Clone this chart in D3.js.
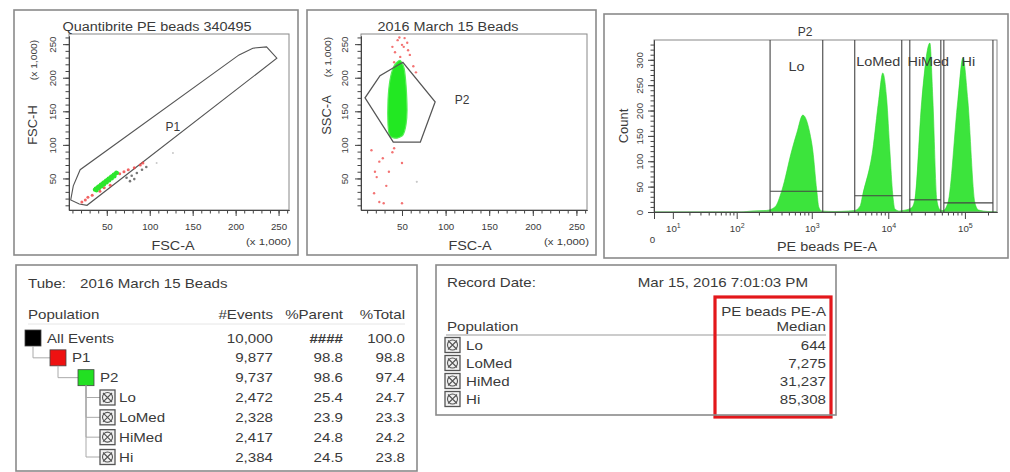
<!DOCTYPE html>
<html>
<head>
<meta charset="utf-8">
<script src="https://cdn.jsdelivr.net/npm/d3@7"></script>
<style>
  body { margin: 0; background: #fff; }
  svg text { font-family: Arial, "Liberation Sans", sans-serif; fill: #3a3a3a; }
</style>
</head>
<body>
<svg id="fig" width="1010" height="472"></svg>
<script>
// ---------------- data ----------------
const plotTitles = ["Quantibrite PE beads 340495", "2016 March 15 Beads", "P2"];
const linTickValues = [50, 100, 150, 200, 250];          // x 1,000
const linMinorTicks = d3.range(10, 261, 10);

// FSC-A vs FSC-H (x 1,000)
const p1Gate = [[8, 18], [11, 39], [19, 63], [204, 234], [220, 244], [236, 246], [248, 229], [27, 10], [18, 12]];
const p1LabelAt = [127, 127];
const p1Green = [[36, 33], [38, 34], [39, 36], [41, 37], [42, 39], [44, 40], [45, 42], [47, 43], [48, 45], [50, 46],
  [51, 48], [53, 49], [54, 51], [56, 52], [57, 54], [59, 55], [60, 57], [62, 58], [37, 35], [40, 38], [43, 41],
  [46, 44], [49, 47], [52, 50], [55, 53], [58, 56], [61, 59], [38, 32], [41, 35], [44, 38], [47, 41], [50, 44],
  [53, 47], [56, 50], [59, 53]];
const p1Red = [[25, 18], [28, 22], [21, 15], [33, 25], [42, 31], [47, 36], [54, 40], [65, 57], [70, 60], [75, 63],
  [82, 66], [89, 70], [92, 73]];
const p1Dark = [[73, 51], [79, 54], [85, 58], [91, 63], [96, 67], [77, 46], [82, 49]];
const p1Faint = [[108, 73], [127, 88]];

// FSC-A vs SSC-A (x 1,000)
const p2Gate = [[7.6, 170], [24.8, 203], [51, 223], [88, 164], [71, 104], [40, 104]];
const p2LabelAt = [119, 167];
const p2Cloud = [[47.7, 226], [52.3, 214.5], [54.6, 189], [55.8, 152], [54.6, 130], [51.2, 115], [44.3, 110],
  [36.3, 113], [34, 130], [34, 167], [36.3, 197], [40.9, 217.5]];
const p2Red = [[45, 256], [50, 249], [53, 259], [57, 241], [42, 238], [48, 231], [59, 234], [52, 246], [63, 217],
  [39, 246], [56, 252], [47, 260], [66, 208], [41, 223], [41, 95], [39, 89], [24, 75], [19, 60], [21, 52], [35, 60],
  [18, 28], [24, 15], [29, 13], [50, 13], [50, 73], [32, 39], [15, 92], [28, 80]];
const p2Faint = [[67, 45]];

// PE beads PE-A histogram of P2: [PE-A value, count]
const peHistogram = [[3.3, 0], [115, 0], [160, 2], [250, 3], [328, 10], [405, 43], [548, 122], [637, 156],
  [763, 191], [942, 156], [1030, 122], [1162, 43], [1235, 10], [1350, 2], [2000, 1], [3000, 2],
  [3650, 3], [4300, 12], [4640, 34], [6270, 122], [7510, 221], [8470, 274], [9550, 221], [10480, 122],
  [11450, 34], [12200, 6], [14000, 2],
  [15500, 3], [20000, 8], [22200, 24], [27400, 221], [34900, 333], [38200, 221], [43000, 24], [47000, 5], [50000, 3],
  [52000, 3], [60000, 18], [81000, 221], [94200, 304], [109000, 221], [135000, 18], [150000, 4], [200000, 1],
  [262000, 0]];
const histYTicks = [0, 50, 100, 150, 200, 250, 300];
const histDecades = [10, 100, 1000, 10000, 100000];

// interval gates on the histogram
const gateNames = ["Lo", "LoMed", "HiMed", "Hi"];
const gateMin = [282, 3650, 19100, 53100];
const gateMax = [1393, 15000, 48500, 232000];
const gateLevel = [41, 32, 24, 18];

// population hierarchy
const tubeName = "2016 March 15 Beads";
const popNames = ["All Events", "P1", "P2", "Lo", "LoMed", "HiMed", "Hi"];
const popDepth = [0, 1, 2, 3, 3, 3, 3];
const popEvents = [10000, 9877, 9737, 2472, 2328, 2417, 2384];
const popParent = [null, 98.8, 98.6, 25.4, 23.9, 24.8, 24.5];
const popTotal = [100.0, 98.8, 97.4, 24.7, 23.3, 24.2, 23.8];
const popColors = ["#000000", "#ee1111", "#22e022", null, null, null, null];

// statistics
const recordDate = "Mar 15, 2016 7:01:03 PM";
const gateMedians = [644, 7275, 31237, 85308];

// ---------------- drawing ----------------
const svg = d3.select("#fig");
const ink = "#444";

// plain text helper; cls selects the horizontal widening applied at the end
function label(g, x, y, txt, size, anchor, cls) {
  return g.append("text").attr("x", x).attr("y", y).attr("font-size", size)
    .attr("text-anchor", anchor || "start").attr("class", cls || "wide").text(txt);
}

function frame(x, y, w, h) {
  svg.append("rect").attr("x", x).attr("y", y).attr("width", w).attr("height", h)
    .attr("fill", "none").attr("stroke", "#8a8a8a").attr("stroke-width", 1.6);
}

function styleAxis(g) {
  g.attr("font-family", null).attr("font-size", null);
  g.selectAll(".domain, .tick line").attr("stroke", ink);
  g.selectAll(".tick text").attr("font-size", 9).attr("fill", "#3a3a3a").attr("class", "tick-label");
}

function scatterPanel(o) {
  const g = svg.append("g");
  const x = d3.scaleLinear().domain(o.xDomain).range(o.xRange);
  const y = d3.scaleLinear().domain([3, 262.144]).range([210, 36]);
  const top = 34;

  g.append("rect").attr("x", o.xRange[0]).attr("y", top)
    .attr("width", o.xRange[1] - o.xRange[0]).attr("height", 210 - top)
    .attr("fill", "none").attr("stroke", "#888").attr("stroke-width", 1);

  // x axis
  g.append("g").attr("transform", "translate(0,210)")
    .call(d3.axisBottom(x).tickValues(linMinorTicks).tickSize(3.5).tickSizeOuter(0).tickFormat(""))
    .call(styleAxis);
  g.append("g").attr("transform", "translate(0,210)")
    .call(d3.axisBottom(x).tickValues(linTickValues).tickSize(6).tickSizeOuter(0).tickPadding(8))
    .call(styleAxis);
  // y axis
  g.append("g").attr("transform", `translate(${o.xRange[0]},0)`)
    .call(d3.axisLeft(y).tickValues(linMinorTicks).tickSize(3.5).tickSizeOuter(0).tickFormat(""))
    .call(styleAxis);
  g.append("g").attr("transform", `translate(${o.xRange[0]},0)`)
    .call(d3.axisLeft(y).tickValues(linTickValues).tickSize(6).tickSizeOuter(0))
    .call(styleAxis)
    .selectAll(".tick text")
    .attr("x", 0).attr("dy", 0).attr("text-anchor", "middle")
    .attr("transform", "translate(-13,0) rotate(-90)");

  // titles and axis names
  label(g, o.titleX, 31, o.title, 12, "middle");
  label(g, o.xLabelX, 250, "FSC-A", 12, "middle");
  label(g, o.xRange[1] + 2, 245, "(x 1,000)", 9.5, "end");
  g.append("text").attr("transform", `translate(${o.yLabelX},${o.yLabelY}) rotate(-90)`)
    .attr("text-anchor", "middle").attr("font-size", 12).attr("class", "tall").text(o.yName);
  g.append("text").attr("transform", `translate(${o.yLabelX},${o.yUnitY}) rotate(-90)`)
    .attr("text-anchor", "middle").attr("font-size", 9.5).attr("class", "tall").text("(x 1,000)");

  return { g, x, y };
}

// ---- panel 1: FSC-A vs FSC-H ----
frame(14, 10, 284, 245);
const s1 = scatterPanel({
  xDomain: [6, 262.144], xRange: [69, 289], title: plotTitles[0], titleX: 157,
  xLabelX: 173, yName: "FSC-H", yLabelX: 37, yLabelY: 125, yUnitY: 60
});
s1.g.append("path").datum(p1Gate)
  .attr("d", d3.line().x(d => s1.x(d[0])).y(d => s1.y(d[1])).curve(d3.curveLinearClosed))
  .attr("fill", "none").attr("stroke", "#555").attr("stroke-width", 1.1);
s1.g.selectAll("circle.faint").data(p1Faint).join("circle")
  .attr("cx", d => s1.x(d[0])).attr("cy", d => s1.y(d[1])).attr("r", 1)
  .attr("fill", "#c8c8c8");
s1.g.selectAll("circle.red").data(p1Red).join("circle").attr("class", "red")
  .attr("cx", d => s1.x(d[0])).attr("cy", d => s1.y(d[1])).attr("r", 1.5)
  .attr("fill", "#f04848").attr("opacity", 0.85);
s1.g.selectAll("circle.dark").data(p1Dark).join("circle").attr("class", "dark")
  .attr("cx", d => s1.x(d[0])).attr("cy", d => s1.y(d[1])).attr("r", 1.3)
  .attr("fill", "#555").attr("opacity", 0.8);
s1.g.selectAll("circle.green").data(p1Green).join("circle").attr("class", "green")
  .attr("cx", d => s1.x(d[0])).attr("cy", d => s1.y(d[1])).attr("r", 2)
  .attr("fill", "#2ee62e");
label(s1.g, s1.x(p1LabelAt[0]), s1.y(p1LabelAt[1]) + 4, "P1", 12, "middle", "plain");

// ---- panel 2: FSC-A vs SSC-A ----
frame(307, 10, 289, 245);
const s2 = scatterPanel({
  xDomain: [3, 262.144], xRange: [361, 587], title: plotTitles[1], titleX: 448,
  xLabelX: 470, yName: "SSC-A", yLabelX: 331, yLabelY: 115, yUnitY: 57
});
s2.g.selectAll("circle.faint").data(p2Faint).join("circle")
  .attr("cx", d => s2.x(d[0])).attr("cy", d => s2.y(d[1])).attr("r", 1.1)
  .attr("fill", "#c8c8c8");
s2.g.selectAll("circle.red").data(p2Red).join("circle").attr("class", "red")
  .attr("cx", d => s2.x(d[0])).attr("cy", d => s2.y(d[1])).attr("r", 1.2)
  .attr("fill", "#f05050").attr("opacity", 0.8);
s2.g.append("path").datum(p2Cloud)
  .attr("d", d3.line().x(d => s2.x(d[0])).y(d => s2.y(d[1])).curve(d3.curveCardinalClosed.tension(0.3)))
  .attr("fill", "#22e822").attr("stroke", "#55ee55").attr("stroke-width", 1.2);
s2.g.append("path").datum(p2Gate)
  .attr("d", d3.line().x(d => s2.x(d[0])).y(d => s2.y(d[1])).curve(d3.curveLinearClosed))
  .attr("fill", "none").attr("stroke", "#555").attr("stroke-width", 1.3);
label(s2.g, s2.x(p2LabelAt[0]), s2.y(p2LabelAt[1]) + 4, "P2", 12, "middle", "plain");

// ---- panel 3: PE-A histogram ----
frame(604, 14, 404, 244);
const hg = svg.append("g");
const hx = d3.scaleSymlog().constant(5.5).domain([3.3, 262144]).range([654, 997]);
const hy = d3.scaleLinear().domain([0, 339]).range([212, 40]);

hg.append("path").datum(peHistogram)
  .attr("d", d3.area().x(d => hx(d[0])).y0(hy(0)).y1(d => hy(d[1])).curve(d3.curveMonotoneX))
  .attr("fill", "#3ce43c").attr("stroke", "#30d830").attr("stroke-width", 0.6);

hg.append("rect").attr("x", 654).attr("y", 40).attr("width", 343).attr("height", 172)
  .attr("fill", "none").attr("stroke", "#888");

// interval gates
gateNames.forEach((name, i) => {
  const x0 = hx(gateMin[i]), x1 = hx(gateMax[i]);
  [x0, x1].forEach(xx => hg.append("line").attr("x1", xx).attr("x2", xx)
    .attr("y1", hy.range()[1]).attr("y2", hy.range()[0]).attr("stroke", "#444").attr("stroke-width", 1.1));
  hg.append("line").attr("x1", x0).attr("x2", x1).attr("y1", hy(gateLevel[i])).attr("y2", hy(gateLevel[i]))
    .attr("stroke", "#444").attr("stroke-width", 1.1);
  label(hg, (x0 + x1) / 2 + (i === 2 ? 3 : 0), i === 0 ? 71 : 66, name, 12, "middle");
});

// axes
const histMinor = [];
[1, 2, 3, 4, 5].forEach(n => d3.range(2, 10).forEach(m => {
  const v = m * Math.pow(10, n);
  if (v <= 262144) histMinor.push(v);
}));
hg.append("g").attr("transform", "translate(0,212)")
  .call(d3.axisBottom(hx).tickValues(histMinor).tickSize(3.5).tickSizeOuter(0).tickFormat(""))
  .call(styleAxis);
const hxMajor = hg.append("g").attr("transform", "translate(0,212)")
  .call(d3.axisBottom(hx).tickValues([hx.domain()[0]].concat(histDecades)).tickSize(7).tickSizeOuter(0).tickPadding(7))
  .call(styleAxis);
hxMajor.selectAll(".tick text").each(function (d, i) {
  const t = d3.select(this).text(null);
  if (i === 0) {
    t.attr("x", -2).attr("dy", "1.9em").text("0");
  } else {
    t.append("tspan").text("10");
    t.append("tspan").attr("dy", -4).attr("font-size", 6.5).text(Math.round(Math.log10(d)));
  }
});

hg.append("g").attr("transform", "translate(654,0)")
  .call(d3.axisLeft(hy).tickValues(d3.range(10, 331, 10)).tickSize(3.5).tickSizeOuter(0).tickFormat(""))
  .call(styleAxis);
hg.append("g").attr("transform", "translate(654,0)")
  .call(d3.axisLeft(hy).tickValues(histYTicks).tickSize(6).tickSizeOuter(0))
  .call(styleAxis)
  .selectAll(".tick text")
  .attr("x", 0).attr("dy", 0).attr("text-anchor", "middle")
  .attr("transform", "translate(-11,0) rotate(-90)");

label(hg, 805, 36, plotTitles[2], 12, "middle", "plain");
label(hg, 827, 251, "PE beads PE-A", 12, "middle");
hg.append("text").attr("transform", "translate(628,126) rotate(-90)").attr("text-anchor", "middle")
  .attr("font-size", 12).attr("class", "tall").text("Count");

// ---------------- hierarchy table ----------------
function gateIcon(g, x, cy) {
  const s = 15, y = cy - s / 2;
  g.append("rect").attr("x", x).attr("y", y).attr("width", s).attr("height", s)
    .attr("fill", "#f2f2f2").attr("stroke", "#555").attr("stroke-width", 1.3);
  g.append("circle").attr("cx", x + s / 2).attr("cy", cy).attr("r", 5)
    .attr("fill", "none").attr("stroke", "#555").attr("stroke-width", 1.1);
  g.append("path").attr("d", `M${x + 3},${y + 3}L${x + s - 3},${y + s - 3}M${x + s - 3},${y + 3}L${x + 3},${y + s - 3}`)
    .attr("stroke", "#555").attr("stroke-width", 1.1);
}

const fmtInt = d3.format(",");
const fmt1 = d3.format(".1f");
const T = 13; // table font size
const t1 = svg.append("g");
frame(16, 265, 401, 206);
label(t1, 28, 288, "Tube:", T, "start", "tbl");
label(t1, 80, 288, tubeName, T, "start", "tbl");
const colRight = [273, 343, 405];
label(t1, 28, 319, "Population", T, "start", "tbl");
["#Events", "%Parent", "%Total"].forEach((h, i) => label(t1, colRight[i], 319, h, T, "end", "tbl"));
t1.append("line").attr("x1", 28).attr("x2", 405).attr("y1", 324).attr("y2", 324).attr("stroke", "#e6e6e6");

const rowY = d3.scaleLinear().domain([0, 6]).range([338, 457]);
const depthX = [25, 50, 78, 100];
popNames.forEach((name, i) => {
  const cy = rowY(i), d = popDepth[i];
  if (d > 0) {
    let p = i - 1;
    while (popDepth[p] !== d - 1) p--;
    const px = depthX[d - 1] + 8;
    t1.append("path").attr("d", `M${px},${rowY(p) + 8}V${cy}H${depthX[d]}`)
      .attr("fill", "none").attr("stroke", "#aaa").attr("stroke-width", 1);
  }
  if (popColors[i]) {
    t1.append("rect").attr("x", depthX[d]).attr("y", cy - 8).attr("width", 16).attr("height", 16)
      .attr("fill", popColors[i]).attr("stroke", "#444").attr("stroke-width", 0.8);
  } else {
    gateIcon(t1, depthX[d], cy);
  }
  label(t1, depthX[d] + (popColors[i] ? 22 : 19), cy + 4.5, name, T, "start", "tbl");
  const cells = [fmtInt(popEvents[i]), popParent[i] === null ? "####" : fmt1(popParent[i]), fmt1(popTotal[i])];
  cells.forEach((c, j) => label(t1, colRight[j], cy + 4.5, c, T, "end", "tbl")
    .attr("font-weight", popParent[i] === null && j === 1 ? "bold" : null));
});

// ---------------- statistics table ----------------
const t2 = svg.append("g");
frame(436, 265, 400, 150);
label(t2, 447, 287, "Record Date:", T, "start", "tbl");
label(t2, 808, 287, recordDate, T, "end", "tbl");
label(t2, 826, 316, "PE beads PE-A", T, "end", "tbl");
label(t2, 826, 331, "Median", T, "end", "tbl");
label(t2, 447, 331, "Population", T, "start", "tbl");
t2.append("line").attr("x1", 446).attr("x2", 826).attr("y1", 335).attr("y2", 335).attr("stroke", "#999");
const statY = d3.scaleLinear().domain([0, 3]).range([345, 399]);
gateNames.forEach((name, i) => {
  const cy = statY(i);
  gateIcon(t2, 445, cy);
  label(t2, 466, cy + 4.5, name, T, "start", "tbl");
  label(t2, 826, cy + 4.5, fmtInt(gateMedians[i]), T, "end", "tbl");
});
t2.append("rect").attr("x", 715).attr("y", 297).attr("width", 116).attr("height", 120)
  .attr("fill", "none").attr("stroke", "#e3171b").attr("stroke-width", 3.2);

// widen the lettering the way the instrument software renders it
function widen(sel, k) {
  sel.each(function () {
    const len = this.getComputedTextLength();
    d3.select(this).attr("textLength", len * k).attr("lengthAdjust", "spacingAndGlyphs");
  });
}
widen(svg.selectAll("text.wide"), 1.2);
widen(svg.selectAll("text.tall"), 1.08);
widen(svg.selectAll("text.tbl"), 1.16);
widen(svg.selectAll("text.tick-label"), 1.08);
</script>
</body>
</html>
